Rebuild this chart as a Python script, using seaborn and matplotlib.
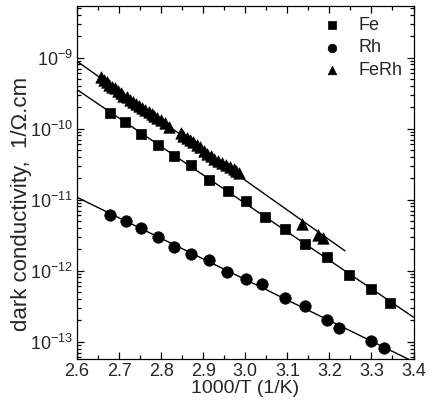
import numpy as np
import pandas as pd
import matplotlib
matplotlib.use("Agg")
import matplotlib.pyplot as plt
import matplotlib.ticker as mticker
import seaborn as sns

# ---- data ----
fe_x = [2.678, 2.715, 2.753, 2.792, 2.830, 2.871, 2.913, 2.958, 3.001, 3.048,
        3.094, 3.143, 3.194, 3.246, 3.300, 3.345]
fe_y = [1.65e-10, 1.22e-10, 8.45e-11, 5.86e-11, 4.11e-11, 3.07e-11, 1.91e-11,
        1.31e-11, 9.57e-12, 5.71e-12, 3.87e-12, 2.38e-12, 1.55e-12, 8.74e-13,
        5.43e-13, 3.46e-13]

rh_x = [2.679, 2.716, 2.753, 2.792, 2.830, 2.872, 2.914, 2.957, 3.002, 3.039,
        3.095, 3.143, 3.194, 3.224, 3.299, 3.331]
rh_y = [6.15e-12, 5.07e-12, 3.96e-12, 2.96e-12, 2.16e-12, 1.72e-12, 1.41e-12,
        9.53e-13, 7.52e-13, 6.39e-13, 4.07e-13, 3.17e-13, 2.01e-13, 1.54e-13,
        1.02e-13, 8.05e-14]

ferh_x = [2.657, 2.664, 2.670, 2.677, 2.683, 2.690, 2.697, 2.704, 2.710, 2.718,
          2.726, 2.732, 2.739, 2.747, 2.754, 2.762, 2.770, 2.777, 2.784, 2.791,
          2.800, 2.809, 2.819, 2.846, 2.853, 2.861, 2.869, 2.876, 2.884, 2.892,
          2.902, 2.910, 2.918, 2.926, 2.936, 2.944, 2.954, 2.964, 2.972, 2.979,
          2.985, 3.134, 3.173, 3.184]
ferh_y = [5.30e-10, 4.85e-10, 4.50e-10, 4.17e-10, 3.91e-10, 3.67e-10, 3.40e-10,
          3.15e-10, 2.92e-10, 2.74e-10, 2.54e-10, 2.38e-10, 2.23e-10, 2.09e-10,
          1.92e-10, 1.80e-10, 1.69e-10, 1.58e-10, 1.48e-10, 1.40e-10, 1.32e-10,
          1.19e-10, 1.05e-10, 8.65e-11, 7.93e-11, 7.43e-11, 6.97e-11, 6.39e-11,
          5.86e-11, 5.44e-11, 4.78e-11, 4.38e-11, 4.06e-11, 3.77e-11, 3.49e-11,
          3.27e-11, 3.04e-11, 2.88e-11, 2.70e-11, 2.50e-11, 2.37e-11, 4.55e-12,
          3.22e-12, 2.89e-12]

series_names = ["Fe", "Rh", "FeRh"]
fit_ranges = {"Fe": (2.6, 3.4), "Rh": (2.6, 3.4), "FeRh": (2.6, 3.237)}
xticks = [2.6, 2.7, 2.8, 2.9, 3.0, 3.1, 3.2, 3.3, 3.4]
yticks = [1e-13, 1e-12, 1e-11, 1e-10, 1e-9]
ylim = (5.7e-14, 5.3e-9)

# ---- styling ----
sns.set_style("ticks")
plt.rcParams["font.family"] = ["Liberation Sans", "DejaVu Sans"]
plt.rcParams["mathtext.fontset"] = "custom"
plt.rcParams["mathtext.rm"] = "Liberation Sans"
plt.rcParams["mathtext.it"] = "Liberation Sans:italic"

fig = plt.figure(figsize=(4.33, 4.07), dpi=100)
ax = fig.add_axes([0.178, 0.118, 0.777, 0.867])

df = pd.concat([
    pd.DataFrame({"x": fe_x, "y": fe_y, "s": "Fe"}),
    pd.DataFrame({"x": rh_x, "y": rh_y, "s": "Rh"}),
    pd.DataFrame({"x": ferh_x, "y": ferh_y, "s": "FeRh"}),
], ignore_index=True)

# fitted lines (Arrhenius fits in log space)
for name in series_names:
    sub = df[df["s"] == name]
    k, b = np.polyfit(sub["x"], np.log10(sub["y"]), 1)
    x0, x1 = fit_ranges[name]
    xs = np.linspace(x0, x1, 50)
    line = pd.DataFrame({"x": xs, "y": 10 ** (k * xs + b)})
    sns.lineplot(data=line, x="x", y="y", ax=ax, color="black", linewidth=1.0,
                 legend=False)

markers = {"Fe": "s", "Rh": "o", "FeRh": "^"}
sizes = {"Fe": 62, "Rh": 68, "FeRh": 68}
for name in series_names:
    sub = df[df["s"] == name]
    sns.scatterplot(data=sub, x="x", y="y", ax=ax, marker=markers[name],
                    s=sizes[name], color="black", edgecolor="black",
                    linewidth=0.5, label=name, zorder=3)

ax.set_yscale("log")
ax.set_xlim(2.6, 3.4)
ax.set_ylim(*ylim)
ax.set_xticks(xticks)
ax.xaxis.set_major_formatter(mticker.FormatStrFormatter("%.1f"))
ax.xaxis.set_minor_locator(mticker.FixedLocator(np.arange(2.65, 3.4, 0.1)))
ax.yaxis.set_major_locator(mticker.FixedLocator(yticks))
ax.yaxis.set_major_formatter(mticker.LogFormatterSciNotation())
minor = [m * 10.0 ** e for e in range(-14, -8) for m in range(2, 10)]
minor = [v for v in minor if ylim[0] <= v <= ylim[1]]
ax.yaxis.set_minor_locator(mticker.FixedLocator(minor))
ax.yaxis.set_minor_formatter(mticker.NullFormatter())
ax.xaxis.set_minor_formatter(mticker.NullFormatter())

ax.tick_params(which="both", direction="in", top=True, right=True,
               color="black", width=0.9)
ax.tick_params(which="major", length=5, labelsize=13, pad=3)
ax.tick_params(which="minor", length=2.8)
for sp in ax.spines.values():
    sp.set_color("black")
    sp.set_linewidth(0.9)

ax.set_xlabel("1000/T (1/K)", fontsize=14, labelpad=0)
ax.set_ylabel("dark conductivity,  1/\u03a9.cm", fontsize=16)
ax.yaxis.set_label_coords(-0.135, 0.44)

leg = ax.legend(loc="upper right", frameon=False, fontsize=13,
                handletextpad=0.5, labelspacing=0.3, borderaxespad=0.3,
                markerscale=0.75, borderpad=0.3)

fig.savefig("out.png", dpi=100)
